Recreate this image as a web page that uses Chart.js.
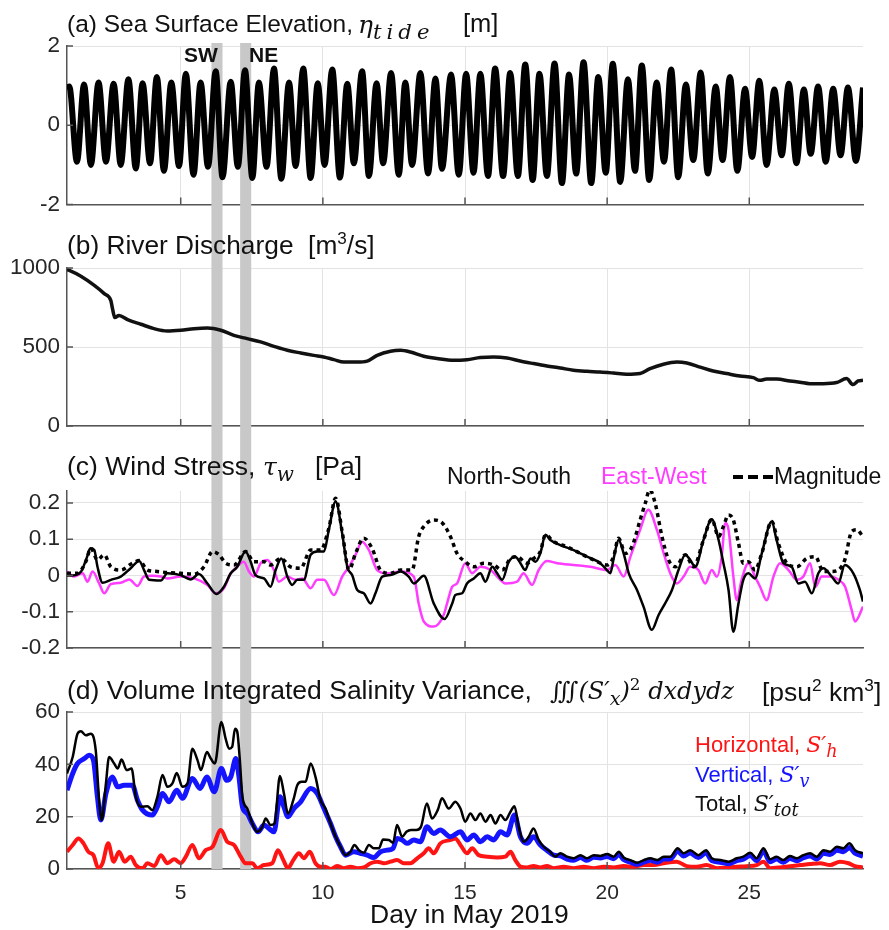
<!DOCTYPE html>
<html>
<head>
<meta charset="utf-8">
<title>May 2019 estuary forcing and salinity variance</title>
<script src="https://cdn.jsdelivr.net/npm/chart.js@4.4.1/dist/chart.umd.min.js"></script>
<style>
  body { margin: 0; background: #fff; }
  #page { position: relative; width: 889px; height: 930px; overflow: hidden;
          font-family: "Liberation Sans", Arial, sans-serif; color: #111; }
  .panel { position: absolute; left: 0; }
  .lbl { position: absolute; white-space: nowrap; line-height: 1; }
  .m { font-family: "DejaVu Serif", serif; font-style: italic; }
  .sub { position: relative; font-size: 0.8em; }
</style>
</head>
<body>
<div id="page">
  <div class="panel" style="top:0"><canvas id="tide" width="889" height="225"></canvas></div>
  <div class="panel" style="top:225px"><canvas id="river" width="889" height="225"></canvas></div>
  <div class="panel" style="top:450px"><canvas id="wind" width="889" height="220"></canvas></div>
  <div class="panel" style="top:670px"><canvas id="salt" width="889" height="260"></canvas></div>
</div>
<script>
// shared x axis
const dayTicks = [5, 10, 15, 20, 25];
const swBand = [6.08, 6.47];
const neBand = [7.09, 7.48];

// (a) tidal elevation, highs and lows [m]
const tideDays = [1.00, 1.08, 1.35, 1.60, 1.84, 2.11, 2.37, 2.64, 2.89, 3.16, 3.42, 3.66, 3.92, 4.16, 4.41, 4.67, 4.94, 5.18, 5.45, 5.70,
  5.96, 6.23, 6.47, 6.76, 7.01, 7.26, 7.52, 7.75, 8.02, 8.28, 8.54, 8.81, 9.04, 9.31, 9.57, 9.82, 10.06, 10.33, 10.60, 10.86,
  11.09, 11.38, 11.62, 11.89, 12.12, 12.40, 12.67, 12.90, 13.14, 13.43, 13.70, 13.96, 14.19, 14.51, 14.78, 15.04, 15.30, 15.54, 15.81, 16.06,
  16.34, 16.59, 16.86, 17.12, 17.38, 17.62, 17.88, 18.15, 18.41, 18.66, 18.91, 19.17, 19.44, 19.69, 19.95, 20.20, 20.46, 20.73, 20.98, 21.22,
  21.48, 21.74, 22.00, 22.25, 22.50, 22.77, 23.03, 23.29, 23.54, 23.82, 24.06, 24.32, 24.58, 24.85, 25.10, 25.35, 25.61, 25.88, 26.14, 26.39,
  26.66, 26.92, 27.16, 27.42, 27.69, 27.95, 28.21, 28.47, 28.75, 29.00];
const tideLevel = [0.93, 0.98, -0.92, 1.03, -1.00, 1.08, -0.92, 1.05, -1.00, 1.16, -1.09, 1.06, -0.96, 1.22, -1.15, 1.08, -1.03, 1.30, -1.25, 1.08,
  -1.05, 1.36, -1.31, 1.10, -1.05, 1.39, -1.33, 1.08, -1.05, 1.43, -1.35, 1.08, -1.03, 1.43, -1.33, 1.06, -1.00, 1.41, -1.32, 1.05,
  -0.96, 1.36, -1.28, 1.06, -0.96, 1.32, -1.25, 1.08, -1.00, 1.32, -1.22, 1.18, -1.10, 1.28, -1.25, 1.30, -1.20, 1.30, -1.28, 1.43,
  -1.28, 1.32, -1.28, 1.53, -1.38, 1.30, -1.28, 1.56, -1.46, 1.28, -1.22, 1.59, -1.46, 1.22, -1.20, 1.55, -1.43, 1.16, -1.15, 1.51,
  -1.38, 1.08, -0.92, 1.41, -1.31, 1.03, -0.88, 1.33, -1.22, 0.98, -0.88, 1.22, -1.15, 0.92, -0.80, 1.12, -1.00, 0.90, -0.76, 1.05,
  -0.96, 0.90, -0.72, 0.98, -0.92, 0.92, -0.76, 0.95, -0.90, 0.95];
const tideTicks = [-2, 0, 2];

// (b) river discharge [m3/s]
const flowDays = [1.00, 1.08, 1.49, 1.96, 2.31, 2.54, 2.60, 2.68, 2.83, 3.13, 3.60, 4.06, 4.53, 5.00, 5.47, 5.94, 6.41, 6.87, 7.34, 7.81,
  8.28, 8.75, 9.22, 9.68, 10.03, 10.39, 10.74, 11.21, 11.56, 11.91, 12.38, 12.73, 13.08, 13.55, 14.02, 14.60, 15.07, 15.54, 16.01, 16.48,
  16.94, 17.41, 17.88, 18.35, 18.81, 19.29, 19.75, 20.22, 20.69, 21.16, 21.51, 21.98, 22.45, 22.80, 23.27, 23.73, 24.20, 24.67, 25.14, 25.37,
  25.61, 25.96, 26.43, 26.78, 27.13, 27.60, 28.07, 28.42, 28.65, 28.83, 29.00];
const flowRate = [990, 985, 948, 890, 838, 795, 743, 686, 700, 673, 644, 616, 601, 606, 616, 620, 606, 574, 553, 532,
  504, 479, 462, 447, 437, 420, 405, 405, 411, 447, 473, 479, 468, 441, 427, 416, 420, 433, 437, 430,
  411, 395, 380, 367, 353, 346, 342, 335, 327, 332, 363, 391, 405, 399, 373, 348, 332, 316, 306, 289,
  297, 297, 285, 277, 268, 268, 275, 300, 262, 285, 289];
const flowTicks = [0, 500, 1000];

// (c) wind stress [Pa]
const nsDays = [1.00, 1.20, 1.49, 1.70, 1.82, 1.96, 2.07, 2.25, 2.54, 2.89, 3.24, 3.54, 3.71, 3.89, 4.30, 4.53, 5.00, 5.35, 5.64, 5.94,
  6.26, 6.52, 6.76, 6.99, 7.28, 7.46, 7.63, 7.93, 8.16, 8.34, 8.54, 8.75, 8.92, 9.10, 9.33, 9.57, 9.80, 10.04, 10.21, 10.45,
  10.68, 10.86, 11.03, 11.21, 11.44, 11.68, 11.85, 12.09, 12.38, 12.73, 13.02, 13.20, 13.55, 13.90, 14.28, 14.55, 14.66, 14.90, 15.07, 15.31,
  15.54, 15.72, 15.96, 16.13, 16.31, 16.54, 16.77, 16.95, 17.12, 17.30, 17.48, 17.65, 17.83, 18.00, 18.35, 18.82, 19.29, 19.76, 19.99, 20.11,
  20.23, 20.40, 20.58, 20.76, 21.05, 21.28, 21.57, 21.81, 22.04, 22.28, 22.51, 22.75, 22.92, 23.10, 23.39, 23.68, 23.92, 24.09, 24.27, 24.44,
  24.62, 24.79, 24.97, 25.20, 25.44, 25.79, 25.96, 26.20, 26.49, 26.73, 26.96, 27.20, 27.43, 27.61, 27.90, 28.13, 28.36, 28.66, 28.89, 29.00];
const nsStress = [0.000, 0.000, 0.010, 0.050, 0.075, 0.070, 0.025, -0.020, -0.012, -0.003, 0.020, 0.040, 0.015, -0.012, -0.014, 0.006, 0.001, -0.011, 0.004, -0.022,
  -0.051, -0.031, 0.006, 0.024, 0.066, 0.038, 0.001, -0.008, -0.031, 0.015, 0.047, -0.003, -0.026, -0.012, -0.012, 0.057, 0.066, 0.066, 0.126, 0.204,
  0.116, 0.024, 0.001, -0.040, -0.049, -0.077, -0.049, -0.003, 0.001, 0.011, -0.003, -0.022, -0.001, -0.077, -0.120, -0.077, -0.054, -0.049, -0.022, -0.008,
  0.006, -0.017, 0.024, 0.006, -0.012, 0.038, 0.052, 0.034, 0.015, 0.047, 0.038, 0.061, 0.112, 0.098, 0.084, 0.070, 0.052, 0.034, 0.015, 0.006,
  0.047, 0.098, 0.061, 0.006, -0.040, -0.086, -0.150, -0.109, -0.077, -0.040, 0.015, 0.057, 0.043, 0.024, 0.098, 0.155, 0.098, 0.034, -0.040, -0.155,
  -0.077, -0.012, 0.006, -0.008, 0.061, 0.149, 0.098, 0.034, 0.024, -0.022, -0.017, -0.049, 0.006, 0.020, -0.003, -0.022, 0.029, 0.006, -0.040, -0.072];
const ewDays = [1.00, 1.25, 1.55, 1.72, 1.90, 2.13, 2.31, 2.54, 2.89, 3.19, 3.48, 3.71, 4.00, 4.30, 4.53, 5.00, 5.47, 5.94, 6.23, 6.52,
  6.76, 6.93, 7.22, 7.40, 7.58, 7.81, 8.05, 8.28, 8.45, 8.75, 9.04, 9.28, 9.57, 9.80, 10.04, 10.39, 10.68, 10.92, 11.15, 11.38,
  11.62, 11.91, 12.26, 12.73, 13.20, 13.37, 13.55, 13.90, 14.25, 14.37, 14.55, 14.72, 15.01, 15.25, 15.54, 15.90, 16.19, 16.42, 16.83, 17.06,
  17.36, 17.59, 17.88, 18.24, 18.82, 19.41, 19.99, 20.29, 20.58, 20.82, 21.16, 21.45, 21.75, 21.99, 22.22, 22.45, 22.69, 22.92, 23.21, 23.45,
  23.68, 23.86, 24.03, 24.15, 24.27, 24.44, 24.56, 24.73, 24.97, 25.20, 25.38, 25.61, 25.85, 26.08, 26.38, 26.67, 26.90, 27.14, 27.32, 27.55,
  27.85, 28.14, 28.37, 28.60, 28.72, 29.00];
const ewStress = [0.011, -0.003, 0.006, -0.017, 0.011, -0.022, -0.049, -0.024, -0.020, -0.011, -0.029, -0.003, -0.001, -0.003, -0.008, -0.003, -0.008, -0.026, -0.049, -0.035,
  0.006, 0.020, 0.038, 0.011, -0.003, 0.034, 0.043, 0.015, -0.017, -0.003, -0.012, -0.008, -0.035, -0.012, -0.012, -0.054, -0.003, 0.024, 0.057, 0.093,
  0.070, 0.015, 0.006, 0.011, -0.003, -0.077, -0.127, -0.141, -0.109, -0.077, -0.031, -0.022, 0.034, 0.006, 0.024, 0.015, -0.008, -0.022, -0.017, 0.006,
  -0.026, 0.015, 0.040, 0.034, 0.029, 0.024, 0.015, 0.029, -0.003, 0.052, 0.126, 0.181, 0.126, 0.061, 0.006, -0.022, -0.003, 0.024, 0.015, -0.022,
  0.015, -0.003, 0.052, 0.144, 0.126, -0.003, -0.068, -0.012, 0.034, -0.003, -0.031, -0.068, -0.003, 0.034, 0.015, -0.012, -0.003, 0.034, -0.031, -0.003,
  -0.003, -0.012, -0.031, -0.095, -0.127, -0.086];
const magDays = [1.00, 1.37, 1.66, 1.84, 2.07, 2.31, 2.54, 2.89, 3.30, 3.54, 3.83, 4.18, 4.53, 5.00, 5.47, 5.82, 6.12, 6.35, 6.58, 6.88,
  7.28, 7.58, 7.93, 8.16, 8.52, 8.86, 9.22, 9.57, 9.92, 10.21, 10.45, 10.68, 10.92, 11.15, 11.44, 11.73, 12.03, 12.38, 12.73, 13.14,
  13.37, 13.55, 13.90, 14.20, 14.49, 14.72, 15.01, 15.31, 15.66, 16.01, 16.31, 16.60, 16.83, 17.18, 17.42, 17.65, 17.83, 18.12, 18.59, 19.05,
  19.52, 19.99, 20.23, 20.40, 20.64, 20.87, 21.16, 21.34, 21.50, 21.69, 21.93, 22.16, 22.40, 22.75, 23.04, 23.39, 23.68, 23.92, 24.09, 24.27,
  24.44, 24.62, 24.79, 24.97, 25.20, 25.44, 25.79, 26.02, 26.32, 26.67, 27.02, 27.32, 27.61, 27.90, 28.13, 28.36, 28.60, 28.78, 29.00];
const magStress = [0.006, 0.006, 0.038, 0.075, 0.043, 0.057, 0.024, 0.015, 0.034, 0.041, 0.015, 0.011, 0.008, 0.006, 0.004, 0.024, 0.066, 0.057, 0.034, 0.029,
  0.066, 0.038, 0.038, 0.029, 0.047, 0.024, 0.020, 0.070, 0.070, 0.130, 0.213, 0.121, 0.015, 0.061, 0.103, 0.075, 0.015, 0.006, 0.015, 0.015,
  0.107, 0.135, 0.153, 0.145, 0.107, 0.061, 0.038, 0.024, 0.034, 0.029, 0.015, 0.047, 0.052, 0.034, 0.047, 0.066, 0.112, 0.093, 0.079, 0.061,
  0.043, 0.029, 0.052, 0.103, 0.061, 0.079, 0.153, 0.199, 0.236, 0.199, 0.107, 0.043, 0.024, 0.057, 0.024, 0.098, 0.155, 0.107, 0.135, 0.167,
  0.153, 0.089, 0.034, 0.038, 0.015, 0.061, 0.149, 0.089, 0.034, 0.024, 0.047, 0.052, 0.011, 0.011, 0.015, 0.043, 0.121, 0.126, 0.107];
const windTicks = [-0.2, -0.1, 0, 0.1, 0.2];

// (d) volume integrated salinity variance [psu^2 km^3]
const totDays = [1.00, 1.20, 1.37, 1.49, 1.66, 1.84, 2.01, 2.13, 2.22, 2.37, 2.48, 2.66, 2.78, 2.92, 3.10, 3.27, 3.42, 3.60, 3.83, 4.00,
  4.18, 4.36, 4.53, 4.71, 4.86, 5.06, 5.24, 5.41, 5.59, 5.71, 5.92, 6.06, 6.20, 6.43, 6.58, 6.70, 6.81, 6.91, 6.99, 7.08,
  7.17, 7.34, 7.52, 7.69, 7.87, 7.99, 8.16, 8.30, 8.49, 8.63, 8.77, 8.96, 9.10, 9.25, 9.39, 9.57, 9.74, 9.92, 10.09, 10.27,
  10.45, 10.62, 10.80, 10.97, 11.11, 11.27, 11.44, 11.62, 11.79, 11.97, 12.12, 12.32, 12.47, 12.61, 12.79, 12.94, 13.10, 13.29, 13.45, 13.66,
  13.84, 14.04, 14.19, 14.43, 14.66, 14.84, 15.01, 15.19, 15.37, 15.54, 15.72, 15.90, 16.07, 16.25, 16.42, 16.60, 16.74, 16.89, 17.06, 17.24,
  17.41, 17.59, 17.77, 18.00, 18.18, 18.35, 18.59, 18.82, 19.06, 19.29, 19.53, 19.76, 20.00, 20.23, 20.41, 20.58, 20.82, 21.05, 21.29, 21.52,
  21.76, 21.99, 22.22, 22.48, 22.69, 22.92, 23.21, 23.48, 23.68, 23.98, 24.27, 24.56, 24.79, 25.03, 25.26, 25.50, 25.73, 25.96, 26.20, 26.43,
  26.67, 26.90, 27.14, 27.37, 27.61, 27.84, 28.08, 28.31, 28.52, 28.72, 29.00];
const totVar = [36.5, 42.8, 51.7, 52.6, 51.1, 51.7, 45.4, 26.3, 18.7, 32.7, 42.8, 40.3, 38.4, 41.8, 37.8, 38.4, 27.6, 23.8, 24.0, 22.5,
  27.6, 35.9, 31.4, 32.7, 36.7, 31.4, 32.7, 46.0, 41.6, 37.8, 44.7, 42.2, 40.3, 56.2, 49.8, 46.0, 46.7, 53.6, 52.4, 41.6,
  27.6, 23.1, 17.4, 14.2, 16.1, 19.3, 16.8, 17.4, 35.5, 28.9, 21.2, 26.3, 32.0, 33.3, 33.3, 40.3, 35.2, 26.3, 23.1, 17.4,
  12.3, 8.5, 5.3, 6.6, 9.2, 7.2, 6.2, 9.2, 7.9, 7.9, 11.3, 11.1, 10.0, 16.8, 12.3, 14.2, 14.9, 14.9, 16.1, 25.0,
  19.3, 22.5, 27.0, 23.1, 25.7, 23.1, 18.1, 21.2, 18.7, 21.2, 18.1, 20.6, 17.4, 20.6, 18.7, 21.9, 24.0, 16.1, 10.4, 12.3,
  15.5, 11.1, 8.5, 6.6, 4.7, 6.0, 4.7, 4.1, 5.3, 4.1, 5.3, 5.0, 5.7, 4.7, 6.6, 4.4, 3.4, 2.4, 3.4, 4.1,
  3.4, 4.7, 4.7, 7.9, 6.0, 7.2, 5.3, 7.2, 4.1, 3.4, 2.8, 4.1, 4.7, 6.2, 4.1, 7.9, 3.7, 4.7, 3.4, 5.0,
  4.1, 5.3, 6.0, 4.7, 7.2, 6.6, 8.5, 7.9, 9.8, 7.2, 6.0];
const verDays = [1.00, 1.20, 1.37, 1.61, 1.78, 1.93, 2.07, 2.19, 2.37, 2.60, 2.78, 3.01, 3.30, 3.48, 3.66, 4.00, 4.18, 4.36, 4.59, 4.86,
  5.06, 5.41, 5.68, 5.92, 6.18, 6.43, 6.62, 6.76, 6.94, 7.05, 7.17, 7.34, 7.52, 7.72, 7.93, 8.10, 8.28, 8.49, 8.63, 8.77,
  8.98, 9.22, 9.57, 9.80, 10.04, 10.27, 10.45, 10.62, 10.80, 11.09, 11.32, 11.56, 11.79, 12.03, 12.26, 12.47, 12.61, 12.79, 12.96, 13.20,
  13.43, 13.66, 13.90, 14.13, 14.49, 14.84, 15.07, 15.31, 15.54, 15.78, 16.01, 16.25, 16.48, 16.74, 16.95, 17.18, 17.41, 17.65, 17.88, 18.12,
  18.35, 18.59, 18.82, 19.06, 19.29, 19.53, 19.76, 20.00, 20.23, 20.41, 20.58, 20.82, 21.05, 21.29, 21.52, 21.76, 21.99, 22.22, 22.48, 22.69,
  22.92, 23.21, 23.48, 23.68, 23.98, 24.27, 24.56, 24.79, 25.03, 25.26, 25.50, 25.73, 25.96, 26.20, 26.43, 26.67, 26.90, 27.14, 27.37, 27.61,
  27.84, 28.08, 28.31, 28.52, 28.72, 29.00];
const verVar = [30.1, 36.5, 40.3, 42.2, 43.5, 41.6, 27.6, 18.7, 28.9, 35.2, 31.4, 32.0, 32.0, 26.3, 22.5, 20.6, 23.8, 28.9, 25.7, 30.1,
  27.0, 34.6, 30.8, 35.2, 29.5, 38.4, 33.9, 35.2, 42.2, 35.2, 23.8, 21.2, 17.4, 14.2, 16.8, 15.5, 14.2, 27.6, 23.8, 20.0,
  23.1, 25.7, 30.8, 28.9, 23.1, 17.4, 12.3, 8.5, 5.3, 6.6, 6.0, 5.3, 4.4, 6.6, 7.2, 7.9, 11.7, 11.1, 9.8, 11.1,
  10.4, 16.1, 13.6, 14.9, 12.3, 14.2, 11.1, 13.0, 10.4, 12.3, 11.1, 14.2, 13.0, 20.6, 12.3, 9.8, 12.3, 9.2, 7.2, 5.3,
  5.0, 3.8, 3.3, 4.4, 3.3, 4.5, 4.2, 4.8, 3.9, 5.6, 3.6, 2.6, 1.8, 2.6, 3.3, 2.6, 3.8, 3.9, 6.8, 5.0,
  6.1, 4.4, 6.2, 3.2, 2.6, 2.0, 3.2, 3.8, 5.2, 3.2, 6.8, 2.8, 3.8, 2.6, 4.0, 3.2, 4.3, 5.0, 3.8, 6.0,
  5.5, 7.2, 6.6, 8.2, 6.0, 4.9];
const horDays = [1.00, 1.20, 1.40, 1.58, 1.75, 1.93, 2.10, 2.25, 2.45, 2.64, 2.83, 3.03, 3.24, 3.42, 3.66, 3.83, 4.07, 4.30, 4.53, 4.77,
  5.00, 5.18, 5.41, 5.64, 5.88, 6.12, 6.41, 6.64, 6.87, 7.11, 7.28, 7.52, 7.69, 7.93, 8.22, 8.42, 8.61, 8.77, 8.96, 9.16,
  9.33, 9.54, 9.74, 9.92, 10.09, 10.27, 10.50, 10.74, 10.97, 11.21, 11.44, 11.68, 11.91, 12.15, 12.38, 12.61, 12.85, 13.08, 13.32, 13.55,
  13.72, 13.90, 14.13, 14.49, 14.66, 14.84, 15.07, 15.25, 15.48, 15.78, 16.13, 16.42, 16.60, 16.77, 16.95, 17.18, 17.41, 17.65, 17.88, 18.12,
  18.47, 18.82, 19.17, 19.53, 19.88, 20.23, 20.58, 20.93, 21.29, 21.64, 21.99, 22.45, 22.80, 23.15, 23.50, 23.86, 24.21, 24.56, 24.91, 25.26,
  25.50, 25.73, 26.08, 26.43, 26.79, 27.14, 27.49, 27.84, 28.19, 28.49, 28.72, 29.00];
const horVar = [6.6, 9.2, 11.7, 9.8, 6.6, 5.3, 0.3, 2.2, 9.8, 2.8, 6.6, 2.8, 4.7, 1.5, 0.3, 2.2, 1.1, 5.3, 2.2, 3.7,
  2.2, 4.7, 9.2, 4.1, 7.2, 8.5, 14.9, 10.4, 9.2, 4.7, 2.2, 2.2, 0.3, 1.5, 2.2, 7.2, 3.4, 0.3, 3.4, 6.0,
  4.1, 6.6, 2.2, 0.9, 0.9, 0.0, 1.1, 0.3, 0.9, 0.3, 0.6, 2.2, 2.8, 2.2, 2.8, 3.4, 2.2, 2.2, 4.1, 6.0,
  7.9, 6.0, 9.8, 11.1, 11.7, 9.2, 6.0, 7.9, 5.3, 4.7, 4.4, 4.7, 6.6, 3.4, 0.9, 0.6, 1.1, 0.6, 1.1, 0.3,
  0.9, 0.3, 0.9, 0.3, 0.9, 0.6, 1.1, 0.9, 1.5, 1.5, 2.2, 2.8, 1.1, 0.9, 1.5, 0.3, 0.6, 0.9, 1.1, 1.5,
  2.8, 0.3, 0.6, 1.1, 1.5, 1.9, 2.2, 1.5, 2.8, 2.2, 1.1, 0.6];
const saltTicks = [0, 20, 40, 60];

const FONT = '"Liberation Sans", Arial, sans-serif';
Chart.defaults.font.family = FONT;

const pts = (xs, ys) => xs.map((x, i) => ({ x, y: ys[i] }));

// grey event bands, run through the gaps between panels
const bands = {
  id: 'bands',
  beforeDatasetsDraw(chart, args, opts) {
    const { ctx, chartArea, scales: { x } } = chart;
    const top = opts.top || 0;
    const bottom = opts.toAxis ? chartArea.bottom : chart.height;
    ctx.save();
    ctx.fillStyle = '#c8c8c8';
    [swBand, neBand].forEach(([d0, d1]) => {
      const x0 = x.getPixelForValue(d0);
      const x1 = x.getPixelForValue(d1);
      ctx.fillRect(x0, top, x1 - x0, bottom - top);
    });
    ctx.restore();
  }
};

// short tick marks pointing into the plot
const innerTicks = {
  id: 'innerTicks',
  afterDatasetsDraw(chart) {
    const { ctx, chartArea: a, scales: { x, y } } = chart;
    ctx.save();
    ctx.strokeStyle = '#555';
    ctx.lineWidth = 1.5;
    ctx.beginPath();
    x.ticks.forEach(t => {
      const px = x.getPixelForValue(t.value);
      ctx.moveTo(px, a.bottom);
      ctx.lineTo(px, a.bottom - 7);
    });
    y.ticks.forEach(t => {
      const py = y.getPixelForValue(t.value);
      ctx.moveTo(a.left, py);
      ctx.lineTo(a.left + 6, py);
    });
    ctx.stroke();
    ctx.restore();
  }
};

function panelOptions(yMin, yMax, yTicks, padTop, padBottom, bandOpts, showX) {
  return {
    responsive: false,
    animation: false,
    layout: { padding: { left: 0, right: 26, top: padTop, bottom: padBottom } },
    elements: { point: { radius: 0 }, line: { cubicInterpolationMode: 'monotone', borderJoinStyle: 'round' } },
    plugins: { legend: { display: false }, tooltip: { enabled: false }, bands: bandOpts },
    scales: {
      x: {
        type: 'linear', min: 1, max: 29,
        afterBuildTicks: s => { s.ticks = dayTicks.map(v => ({ value: v })); },
        afterFit: s => { s.height = showX ? 61 : 0; },
        grid: { color: '#e3e3e3', drawTicks: false },
        border: { color: '#555', width: 1.5 },
        ticks: { display: showX, padding: 12, color: '#262626', font: { size: 21 } }
      },
      y: {
        min: yMin, max: yMax,
        afterBuildTicks: s => { s.ticks = yTicks.map(v => ({ value: v })); },
        afterFit: s => { s.width = 67; },
        grid: { color: '#e3e3e3', drawTicks: false },
        border: { color: '#555', width: 1.5 },
        ticks: { padding: 7, color: '#262626', font: { size: 22.5 }, callback: v => String(v) }
      }
    }
  };
}

new Chart(document.getElementById('tide'), {
  type: 'line',
  data: { datasets: [{ data: pts(tideDays, tideLevel), borderColor: '#000', borderWidth: 6 }] },
  options: panelOptions(-2, 2, tideTicks, 46, 19, { top: 43 }, false),
  plugins: [bands, innerTicks]
});

new Chart(document.getElementById('river'), {
  type: 'line',
  data: { datasets: [{ data: pts(flowDays, flowRate), borderColor: '#111', borderWidth: 3.5 }] },
  options: panelOptions(0, 1000, flowTicks, 43, 24, {}, false),
  plugins: [bands, innerTicks]
});

new Chart(document.getElementById('wind'), {
  type: 'line',
  data: {
    datasets: [
      { label: 'Magnitude', data: pts(magDays, magStress), borderColor: '#000', borderWidth: 3.5, borderDash: [4, 4] },
      { label: 'North-South', data: pts(nsDays, nsStress), borderColor: '#000', borderWidth: 2.5 },
      { label: 'East-West', data: pts(ewDays, ewStress), borderColor: '#ff3dff', borderWidth: 2.5 }
    ]
  },
  options: panelOptions(-0.2, 0.233, windTicks, 41, 22, {}, false),
  plugins: [bands, innerTicks]
});

new Chart(document.getElementById('salt'), {
  type: 'line',
  data: {
    datasets: [
      { label: 'Total', data: pts(totDays, totVar), borderColor: '#000', borderWidth: 2.5 },
      { label: 'Vertical', data: pts(verDays, verVar), borderColor: '#1414ff', borderWidth: 5 },
      { label: 'Horizontal', data: pts(horDays, horVar), borderColor: '#ff1414', borderWidth: 4 }
    ]
  },
  options: panelOptions(0, 60, saltTicks, 42, 0, { toAxis: true }, true),
  plugins: [bands, innerTicks]
});

// panel titles, legends and annotations
const page = document.getElementById('page');
function txt(html, x, baseline, size, css) {
  const d = document.createElement('div');
  d.className = 'lbl';
  d.innerHTML = html;
  d.style.left = x + 'px';
  d.style.top = (baseline - 0.8465 * size) + 'px';
  d.style.fontSize = size + 'px';
  if (css) d.style.cssText += css;
  page.appendChild(d);
}
const sup = n => '<sup style="font-size:0.65em;vertical-align:0.6em">' + n + '</sup>';

txt('(a) Sea Surface Elevation,', 67, 33, 24.5);
txt('<span class="m">η<span class="sub" style="top:6px;font-size:0.85em;letter-spacing:5px">tide</span></span>', 358, 33, 25);
txt('[m]', 463, 33, 25.5);
txt('(b) River Discharge&nbsp; [m' + sup(3) + '/s]', 67, 252, 26.3);
txt('(c) Wind Stress,', 67, 475, 26.5);
txt('<span class="m">τ<span class="sub" style="top:6px">w</span></span>', 263, 475, 25);
txt('[Pa]', 315, 475, 26.5);
txt('(d) Volume Integrated Salinity Variance,', 67, 699, 26.5);
txt('<span class="m" style="font-style:normal">∭</span><span class="m">(S′<span class="sub" style="top:6px">x</span>)<span style="position:relative;top:-9px;font-size:0.7em;font-style:normal">2</span> dxdydz</span>', 550, 699, 24);
txt('[psu' + sup(2) + ' km' + sup(3) + ']', 762, 699, 26.5);

txt('SW', 184, 62, 21, 'font-weight:bold');
txt('NE', 249, 62, 21, 'font-weight:bold');

txt('North-South', 447, 484, 23);
txt('East-West', 601, 484, 23, 'color:#ff3dff');
const dash = document.createElement('div');
dash.style.cssText = 'position:absolute;left:733px;top:475px;width:40px;height:3.5px;background:repeating-linear-gradient(90deg,#000 0 10px,transparent 10px 15px)';
page.appendChild(dash);
txt('Magnitude', 774, 484, 23);

txt('Horizontal, <span class="m">S′<span class="sub" style="top:5px">h</span></span>', 695, 753, 22, 'color:#ff1414');
txt('Vertical, <span class="m">S′<span class="sub" style="top:5px">v</span></span>', 695, 783, 22, 'color:#1414ff');
txt('Total, <span class="m">S′<span class="sub" style="top:5px">tot</span></span>', 695, 812, 22);

txt('Day in May 2019', 370, 923, 26.5);
</script>
</body>
</html>
